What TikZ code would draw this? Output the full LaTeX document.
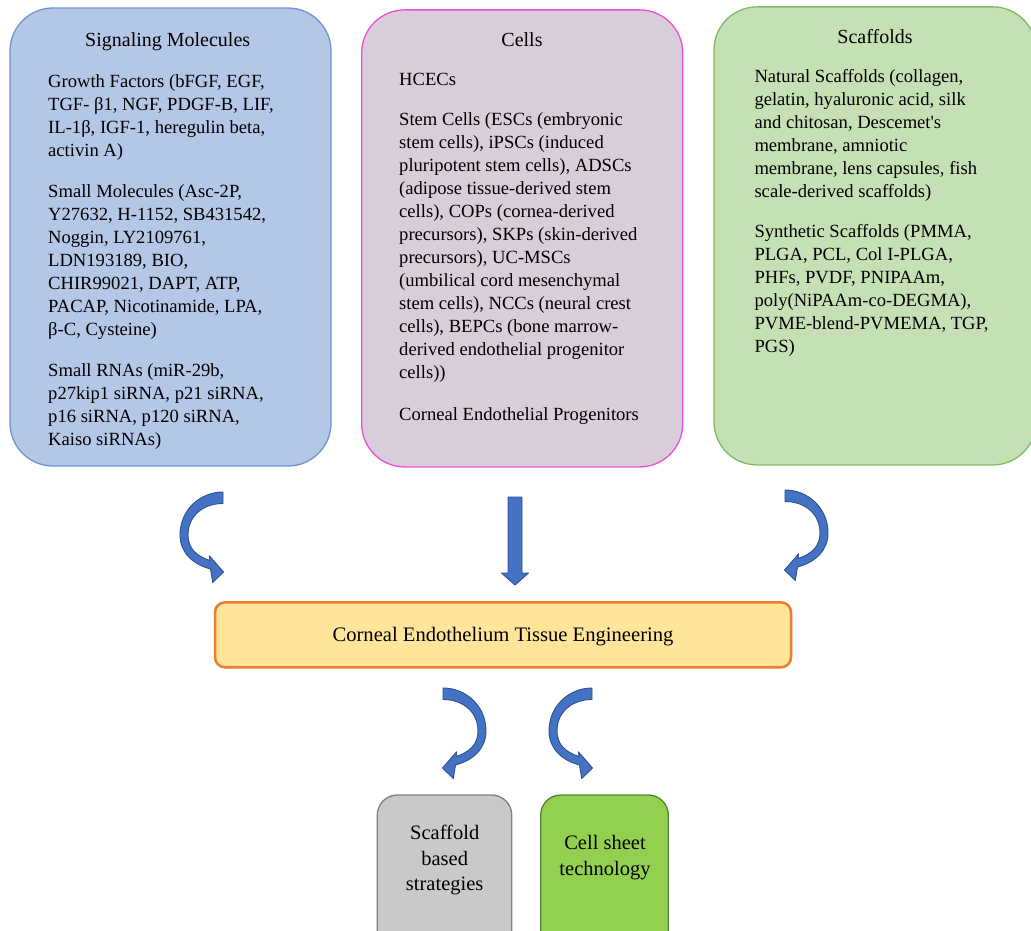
\documentclass[tikz,border=0pt]{standalone}
\usepackage{fontspec}
\setmainfont{Liberation Serif}
\definecolor{sigfill}{RGB}{180,199,231}
\definecolor{sigdraw}{RGB}{114,147,208}
\definecolor{cellfill}{RGB}{217,205,217}
\definecolor{celldraw}{RGB}{232,80,220}
\definecolor{scaffill}{RGB}{197,224,180}
\definecolor{scafdraw}{RGB}{130,186,95}
\definecolor{cefill}{RGB}{255,229,153}
\definecolor{cedraw}{RGB}{237,125,49}
\definecolor{grayfill}{RGB}{201,201,201}
\definecolor{graydraw}{RGB}{128,128,128}
\definecolor{greenfill}{RGB}{146,208,80}
\definecolor{greendraw}{RGB}{84,130,53}
\definecolor{arrowfill}{RGB}{68,114,196}
\definecolor{arrowdraw}{RGB}{47,82,143}
\tikzset{
  bigbox/.style={draw, line width=1.3pt, rounded corners=43pt, inner sep=0pt},
  smallbox/.style={draw, line width=1.3pt, rounded corners=20pt, inner sep=0pt, minimum height=160pt},
  bodytext/.style={anchor=north west, align=left, inner sep=0pt, font=\fontsize{18.6}{23}\selectfont},
  titletext/.style={anchor=base, inner sep=0pt, font=\fontsize{20}{24}\selectfont},
  stratext/.style={anchor=north, align=center, inner sep=0pt, font=\fontsize{20.5}{25.5}\selectfont},
  blockarrow/.style={fill=arrowfill, draw=arrowdraw, line width=0.9pt, line join=round},
  curvarr/.pic={
    \filldraw[blockarrow] (0,0) .. controls (-23,0) and (-43,18) .. (-43,43)
      .. controls (-43,60) and (-31,72) .. (-12.5,77) -- (-10.3,90.5) -- (0.5,80)
      -- (-13.7,63.7) -- (-13,68.5) .. controls (-27,64) and (-35,56) .. (-35,43)
      .. controls (-35,24) and (-20,11.5) .. (0,11.5) -- cycle;
  }
}
\begin{document}
\begin{tikzpicture}[x=1pt, y=-1pt]
\useasboundingbox (0,0) rectangle (1031,931);
\clip (0,0) rectangle (1031,931);
\fill[white] (0,0) rectangle (1031,931);

% big boxes
\node[bigbox, fill=sigfill, draw=sigdraw, minimum width=321pt, minimum height=458pt] (sig) at (170.5,237) {};
\node[bigbox, fill=cellfill, draw=celldraw, minimum width=321pt, minimum height=457pt] (cells) at (522.2,238.4) {};
\node[bigbox, fill=scaffill, draw=scafdraw, minimum width=322pt, minimum height=458pt] (scaf) at (875,235.9) {};

% titles
\node[titletext] (sigtitle) at (167.7,47) {Signaling Molecules};
\node[titletext] (celltitle) at (522,46.7) {Cells};
\node[titletext] (scaftitle) at (875,43.3) {Scaffolds};

% bodies
\node[bodytext] (sigbody) at (48,70.9) {\strut Growth Factors (bFGF, EGF,\\
TGF- β1, NGF, PDGF-B, LIF,\\
IL-1β, IGF-1, heregulin beta,\\
activin A)\\[18pt]
Small Molecules (Asc-2P,\\
Y27632, H-1152, SB431542,\\
Noggin, LY2109761,\\
LDN193189, BIO,\\
CHIR99021, DAPT, ATP,\\
PACAP, Nicotinamide, LPA,\\
β-C, Cysteine)\\[18pt]
Small RNAs (miR-29b,\\
p27kip1 siRNA, p21 siRNA,\\
p16 siRNA, p120 siRNA,\\
Kaiso siRNAs)};

\node[bodytext] (cellbody) at (399,68.9) {\strut HCECs\\[17pt]
Stem Cells (ESCs (embryonic\\
stem cells), iPSCs (induced\\
pluripotent stem cells), ADSCs\\
(adipose tissue-derived stem\\
cells), COPs (cornea-derived\\
precursors), SKPs (skin-derived\\
precursors), UC-MSCs\\
(umbilical cord mesenchymal\\
stem cells), NCCs (neural crest\\
cells), BEPCs (bone marrow-\\
derived endothelial progenitor\\
cells))\\[19pt]
Corneal Endothelial Progenitors};

\node[bodytext] (scafbody) at (754.3,66.6) {\strut Natural Scaffolds (collagen,\\
gelatin, hyaluronic acid, silk\\
and chitosan, Descemet\textquotesingle s\\
membrane, amniotic\\
membrane, lens capsules, fish\\
scale-derived scaffolds)\\[17pt]
Synthetic Scaffolds (PMMA,\\
PLGA, PCL, Col I-PLGA,\\
PHFs, PVDF, PNIPAAm,\\
poly(NiPAAm-co-DEGMA),\\
PVME-blend-PVMEMA, TGP,\\
PGS)};

% central box
\node[draw=cedraw, fill=cefill, line width=2.5pt, rounded corners=10pt, minimum width=576pt, minimum height=65pt, inner sep=0pt] (ce) at (503,634.8) {};
\node[anchor=base, inner sep=0pt, font=\fontsize{20.6}{24}\selectfont] (cetext) at (503,641) {Corneal Endothelium Tissue Engineering};

% bottom boxes
\node[smallbox, fill=grayfill, draw=graydraw, minimum width=134.4pt] (gbox) at (444.5,875) {};
\node[smallbox, fill=greenfill, draw=greendraw, minimum width=127.6pt] (cbox) at (604.5,875) {};
\node[stratext] (gtext) at (444.7,821.5) {\strut Scaffold\\based\\strategies};
\node[stratext] (ctext) at (605,831.5) {\strut Cell sheet\\technology};

% arrows
\pic at (223,492) {curvarr};
\filldraw[blockarrow] (508,497) -- (522,497) -- (522,573) -- (528.5,573) -- (515,585) -- (501.5,573) -- (508,573) -- cycle;
\pic[xscale=-1] at (785,490) {curvarr};
\pic[xscale=-1] at (443,688) {curvarr};
\pic at (592,688) {curvarr};
\end{tikzpicture}
\end{document}
